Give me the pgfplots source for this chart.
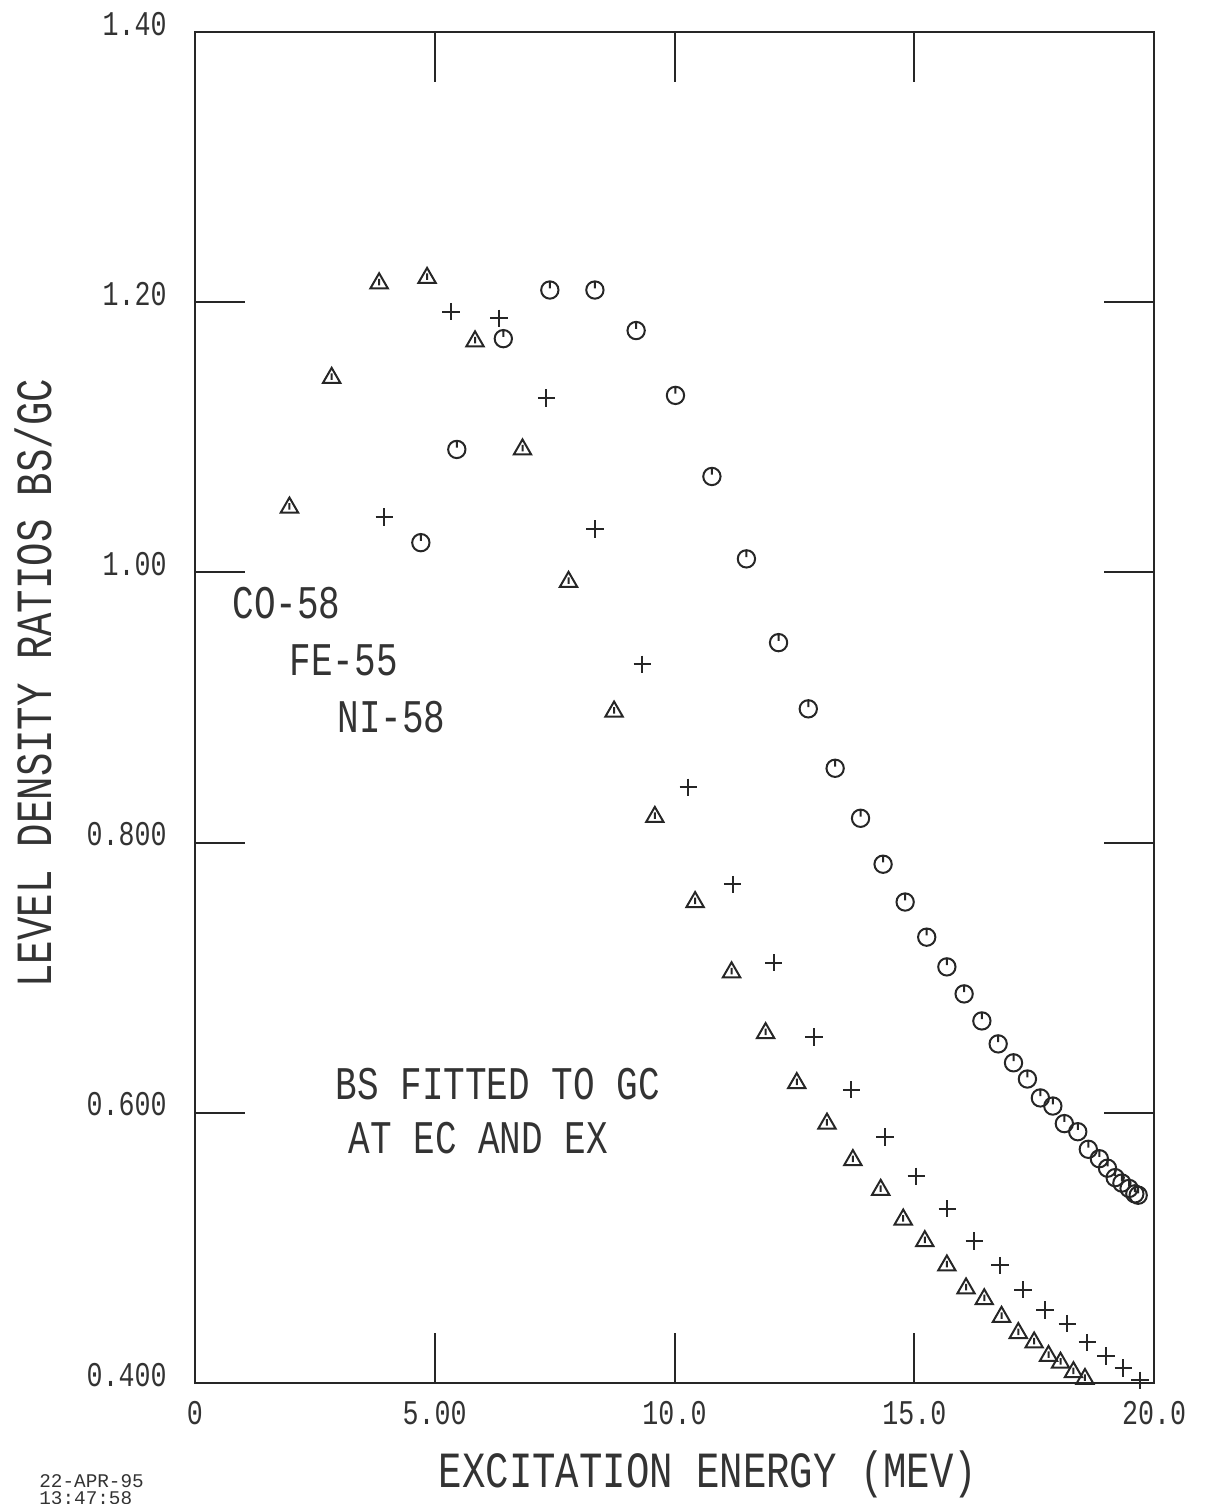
\documentclass[border=0pt]{standalone}
\usepackage{graphicx}
\usepackage{fontspec}
\setmainfont{Liberation Mono}
\usepackage{pgfplots}
\pgfplotsset{compat=1.18}

\newcommand\tall[1]{\scalebox{1}[1.3]{#1}}

% plotter-style symbols
\pgfdeclareplotmark{clockcircle}{%
  \pgfpathcircle{\pgfpointorigin}{\pgfplotmarksize}%
  \pgfpathmoveto{\pgfpoint{0pt}{\pgfplotmarksize}}%
  \pgfpathlineto{\pgfpoint{0pt}{0.2\pgfplotmarksize}}%
  \pgfusepathqstroke}
\pgfdeclareplotmark{dtriangle}{%
  \pgfpathmoveto{\pgfpointpolar{90}{\pgfplotmarksize}}%
  \pgfpathlineto{\pgfpointpolar{210}{\pgfplotmarksize}}%
  \pgfpathlineto{\pgfpointpolar{-30}{\pgfplotmarksize}}%
  \pgfpathclose
  \pgfpathmoveto{\pgfpoint{0pt}{0.45\pgfplotmarksize}}%
  \pgfpathlineto{\pgfpoint{0pt}{-0.2\pgfplotmarksize}}%
  \pgfusepathqstroke}

\pgfplotstableread{
x y
1.97 1.048
2.85 1.144
3.84 1.214
4.84 1.218
5.84 1.171
6.83 1.091
7.79 0.993
8.74 0.897
9.59 0.819
10.43 0.756
11.19 0.704
11.90 0.659
12.55 0.622
13.18 0.592
13.72 0.565
14.30 0.543
14.77 0.521
15.22 0.505
15.68 0.487
16.08 0.470
16.46 0.462
16.82 0.449
17.17 0.437
17.50 0.430
17.80 0.420
18.05 0.415
18.32 0.408
18.56 0.403
}\ni

\pgfplotstableread{
x y
3.95 1.041
5.34 1.193
6.34 1.188
7.33 1.129
8.34 1.032
9.33 0.932
10.29 0.841
11.21 0.769
12.07 0.711
12.91 0.656
13.69 0.617
14.39 0.582
15.04 0.553
15.69 0.529
16.25 0.505
16.79 0.487
17.27 0.469
17.73 0.454
18.19 0.444
18.61 0.430
19.00 0.420
19.36 0.411
19.71 0.402
}\fe

\pgfplotstableread{
x y
4.71 1.022
5.46 1.091
6.43 1.173
7.40 1.209
8.34 1.209
9.20 1.179
10.02 1.131
10.78 1.071
11.50 1.010
12.17 0.948
12.79 0.899
13.35 0.855
13.88 0.818
14.35 0.784
14.81 0.756
15.26 0.730
15.68 0.708
16.04 0.688
16.41 0.668
16.75 0.651
17.07 0.637
17.36 0.625
17.63 0.611
17.89 0.605
18.13 0.592
18.41 0.586
18.63 0.573
18.86 0.566
19.03 0.559
19.19 0.552
19.33 0.548
19.48 0.544
19.60 0.540
19.67 0.539
}\co

\begin{document}
\begin{tikzpicture}
\begin{axis}[
    scale only axis,
    width=287.7pt, height=405.3pt,
    xmin=0, xmax=20, ymin=0.4, ymax=1.4,
    xtick={0,5,10,15,20},
    xticklabels={\tall{0},\tall{5.00},\tall{10.0},\tall{15.0},\tall{20.0}},
    ytick={0.4,0.6,0.8,1.0,1.2,1.4},
    yticklabels={\tall{0.400},\tall{0.600},\tall{0.800},\tall{1.00},\tall{1.20},\tall{1.40}},
    tick align=inside, tick pos=both,
    major tick length=15pt,
    axis line style={line width=0.6pt, black!85},
    tick style={line width=0.6pt, black!85},
    ticklabel style={font=\fontsize{8}{9}\selectfont, text=black!80},
    yticklabel style={xshift=-5pt, yshift=2.5pt},
    xticklabel style={yshift=-2pt},
    xlabel={\tall{EXCITATION ENERGY (MEV)}},
    ylabel={\tall{LEVEL DENSITY RATIOS BS/GC}},
    label style={font=\fontsize{11.7}{13}\selectfont, text=black!80},
    xlabel style={at={(rel axis cs:0.535,-0.068)}, anchor=center},
    ylabel style={at={(rel axis cs:-0.169,0.518)}, anchor=center, rotate=0},
    clip=false,
    mark size=2.6pt,
]
\addplot[only marks, mark=dtriangle, mark size=3pt, black!85, line width=0.6pt] table {\ni};
\addplot[only marks, mark=+, black!85, line width=0.6pt] table {\fe};
\addplot[only marks, mark=clockcircle, black!85, line width=0.6pt] table {\co};

\begin{scope}[every node/.style={anchor=west, text=black!80, font=\fontsize{10.8}{12}\selectfont, inner sep=0pt}]
\node at (axis cs:0.77,0.977) {\tall{CO-58}};
\node at (axis cs:1.96,0.935) {\tall{FE-55}};
\node at (axis cs:2.96,0.893) {\tall{NI-58}};
\node at (axis cs:2.92,0.621) {\tall{BS FITTED TO GC}};
\node at (axis cs:3.19,0.581) {\tall{AT EC AND EX}};
\end{scope}
\node[font=\fontsize{5.8}{3.3}\selectfont, text=black!80, align=left, anchor=north west, inner sep=0pt]
  at (rel axis cs:-0.163,-0.0675) {22-APR-95\\13:47:58};
\end{axis}
\pgfresetboundingbox
\path[use as bounding box] (-58.5pt,-36.3pt) rectangle (303pt,414.9pt);
\end{tikzpicture}
\end{document}
